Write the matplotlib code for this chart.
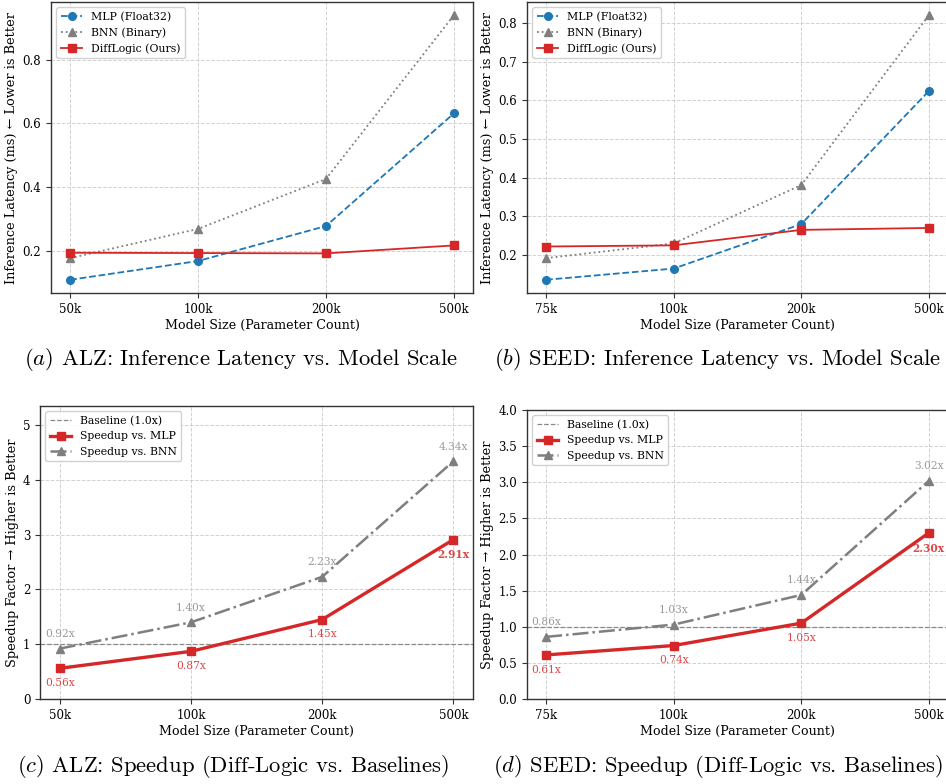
import matplotlib
matplotlib.use("Agg")
import matplotlib.pyplot as plt
import numpy as np

plt.rcParams['font.family'] = ['DejaVu Serif']
plt.rcParams['mathtext.fontset'] = 'cm'

# ---------------- data ----------------
alz_sizes = ["50k", "100k", "200k", "500k"]
seed_sizes = ["75k", "100k", "200k", "500k"]

alz_mlp = [0.108, 0.167, 0.277, 0.631]
alz_bnn = [0.176, 0.268, 0.425, 0.940]
alz_diff = [0.193, 0.192, 0.191, 0.216]

seed_mlp = [0.136, 0.165, 0.280, 0.624]
seed_bnn = [0.192, 0.230, 0.381, 0.820]
seed_diff = [0.222, 0.225, 0.265, 0.270]

alz_speed_mlp = [0.56, 0.87, 1.45, 2.91]
alz_speed_bnn = [0.92, 1.40, 2.23, 4.34]
seed_speed_mlp = [0.61, 0.74, 1.05, 2.30]
seed_speed_bnn = [0.86, 1.03, 1.44, 3.02]

captions = [
    r"$\mathit{(a)}$ ALZ: Inference Latency vs. Model Scale",
    r"$\mathit{(b)}$ SEED: Inference Latency vs. Model Scale",
    r"$\mathit{(c)}$ ALZ: Speedup (Diff-Logic vs. Baselines)",
    r"$\mathit{(d)}$ SEED: Speedup (Diff-Logic vs. Baselines)",
]

RED = '#d62728'
BLUE = '#1f77b4'
GRAY = '#7f7f7f'

W, H = 946, 784
fig = plt.figure(figsize=(W / 100, H / 100), dpi=100)


def px_axes(l, t, r, b):
    return fig.add_axes([l / W, 1 - b / H, (r - l) / W, (b - t) / H])


def style(ax):
    ax.grid(True, linestyle='--', color='#cccccc', linewidth=0.7, alpha=0.9)
    ax.set_axisbelow(True)
    for s in ax.spines.values():
        s.set_color('#333333')
        s.set_linewidth(1.0)
    ax.tick_params(labelsize=8.5, color='#333333', length=3.5)
    ax.set_xlim(-0.15, 3.15)


def latency(ax, sizes, mlp, bnn, diff):
    x = np.arange(len(sizes))
    ax.plot(x, mlp, linestyle='--', marker='o', color=BLUE, lw=1.3, ms=5.5, label='MLP (Float32)')
    ax.plot(x, bnn, linestyle=':', marker='^', color=GRAY, lw=1.3, ms=5.5, label='BNN (Binary)')
    ax.plot(x, diff, linestyle='-', marker='s', color=RED, lw=1.3, ms=5.5, label='DiffLogic (Ours)')
    ax.set_xticks(x)
    ax.set_xticklabels(sizes)
    style(ax)
    ax.set_xlabel('Model Size (Parameter Count)', fontsize=9.1, labelpad=2)
    ax.set_ylabel('Inference Latency (ms) \u2190 Lower is Better', fontsize=9.3, labelpad=3)
    ax.legend(loc='upper left', fontsize=7.8, framealpha=0.9, edgecolor='#cccccc')


def speedup(ax, sizes, smlp, sbnn, ytop):
    x = np.arange(len(sizes))
    ax.axhline(1.0, color='#888888', linestyle='--', lw=0.9, label='Baseline (1.0x)')
    ax.plot(x, smlp, linestyle='-', marker='s', color=RED, lw=2.4, ms=5.5, label='Speedup vs. MLP')
    ax.plot(x, sbnn, linestyle='-.', marker='^', color=GRAY, lw=1.8, ms=5.5, label='Speedup vs. BNN')
    for i, (m, b) in enumerate(zip(smlp, sbnn)):
        ax.annotate(f"{b:.2f}x", (x[i], b), xytext=(0, 7), textcoords='offset points',
                    ha='center', va='bottom', fontsize=7.7, color='#999999')
        ax.annotate(f"{m:.2f}x", (x[i], m), xytext=(0, -7), textcoords='offset points',
                    ha='center', va='top', fontsize=7.7, color=RED, alpha=0.85,
                    fontweight='bold' if i == len(x) - 1 else 'normal')
    ax.set_xticks(x)
    ax.set_xticklabels(sizes)
    ax.set_ylim(0, ytop)
    style(ax)
    ax.set_xlabel('Model Size (Parameter Count)', fontsize=9.1, labelpad=2)
    ax.set_ylabel('Speedup Factor \u2192 Higher is Better', fontsize=9.3, labelpad=3)
    ax.legend(loc='upper left', fontsize=7.8, framealpha=0.9, edgecolor='#cccccc')


ax_a = px_axes(51, 2, 473, 293)
ax_b = px_axes(527, 2, 948, 293)
ax_c = px_axes(40, 406, 473, 699)
ax_d = px_axes(527, 410, 948, 699)

latency(ax_a, alz_sizes, alz_mlp, alz_bnn, alz_diff)
latency(ax_b, seed_sizes, seed_mlp, seed_bnn, seed_diff)
speedup(ax_c, alz_sizes, alz_speed_mlp, alz_speed_bnn, 5.35)
speedup(ax_d, seed_sizes, seed_speed_mlp, seed_speed_bnn, 4.0)

cap_pos = [(241, 360), (718, 360), (233, 766), (718, 766)]
for (cx, cy), txt in zip(cap_pos, captions):
    fig.text(cx / W, 1 - cy / H, txt, ha='center', va='center', fontsize=16.3,
             family='cmr10')

fig.savefig('out.png', dpi=100)
